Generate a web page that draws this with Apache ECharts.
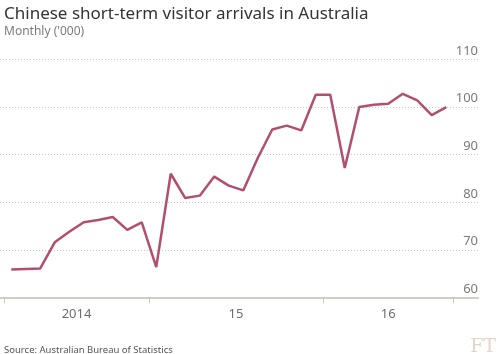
<!DOCTYPE html>
<html>
<head>
<meta charset="utf-8">
<script src="https://cdn.jsdelivr.net/npm/echarts@6/dist/echarts.min.js"></script>
<style>
  html, body { margin: 0; padding: 0; background: #ffffff; }
  #chart { width: 500px; height: 354px; }
</style>
</head>
<body>
<div id="chart"></div>
<script>
// monthly arrivals ('000), Mar 2014 .. Sep 2016
var months = ['2014-03','2014-04','2014-05','2014-06','2014-07','2014-08','2014-09','2014-10','2014-11','2014-12',
              '2015-01','2015-02','2015-03','2015-04','2015-05','2015-06','2015-07','2015-08','2015-09','2015-10','2015-11','2015-12',
              '2016-01','2016-02','2016-03','2016-04','2016-05','2016-06','2016-07','2016-08','2016-09'];
var arrivals = [65.9, 66.0, 66.1, 71.6, 73.8, 75.8, 76.3, 76.9, 74.2, 75.8,
                66.4, 86.0, 80.9, 81.4, 85.4, 83.5, 82.5, 89.3, 95.3, 96.1, 95.1, 102.6,
                102.6, 87.2, 100.0, 100.5, 100.7, 102.8, 101.4, 98.3, 100.0];
// year boundaries (month index) and label positions
var yearTicks = [-0.5, 9.5, 21.5, 30.5];
var yearLabelPos = [4.5, 15.5, 26];
var yearLabels = ['2014', '15', '16'];

var chart = echarts.init(document.getElementById('chart'));
var fontFam = '"Noto Sans", sans-serif';

var option = {
    backgroundColor: '#ffffff',
    animation: false,
    title: [
        {
            text: 'Chinese short-term visitor arrivals in Australia',
            left: -1, top: 1,
            textStyle: { fontFamily: fontFam, fontSize: 17, fontWeight: 'normal', color: '#333333' }
        },
        {
            text: "Monthly ('000)",
            left: -1, top: 21,
            textStyle: { fontFamily: fontFam, fontSize: 12, fontWeight: 'normal', color: '#7a7a7a' }
        },
        {
            text: 'Source: Australian Bureau of Statistics',
            left: -1, top: 340,
            textStyle: { fontFamily: fontFam, fontSize: 9.5, fontWeight: 'normal', color: '#555555' }
        },
        {
            text: 'FT',
            right: -1, top: 333,
            textStyle: { fontFamily: '"DejaVu Serif", serif', fontSize: 19, fontWeight: 'normal', color: '#e2d5c8' }
        }
    ],
    grid: { left: 0, right: 22, top: 59.5, bottom: 56.5 },
    xAxis: {
        type: 'value',
        min: -0.776,
        max: 32.19,
        axisLine: { show: true, lineStyle: { color: '#cfcfc6', width: 2 } },
        axisTick: {
            show: true, length: 6, customValues: yearTicks,
            lineStyle: { color: '#cfc6bc', width: 1 }
        },
        axisLabel: {
            customValues: yearLabelPos,
            formatter: function (v) {
                var k = yearLabelPos.indexOf(v);
                return k >= 0 ? yearLabels[k] : '';
            },
            margin: 10,
            fontFamily: fontFam, fontSize: 13, color: '#6e6e6e'
        },
        splitLine: { show: false }
    },
    yAxis: {
        type: 'value',
        position: 'right',
        min: 60, max: 110, interval: 10,
        axisLine: { show: false },
        axisTick: { show: false },
        axisLabel: {
            inside: true,
            margin: 0,
            verticalAlign: 'bottom',
            padding: [0, 0, 2, 0],
            fontFamily: fontFam, fontSize: 13, color: '#7a7a7a'
        },
        splitLine: { show: true, lineStyle: { type: [1, 2], color: '#cdc8b8', width: 1 } }
    },
    series: [
        {
            type: 'line',
            data: arrivals.map(function (v, i) { return [i, v]; }),
            showSymbol: false,
            lineStyle: { color: '#b24f6f', width: 2.5 },
            itemStyle: { color: '#b24f6f' }
        }
    ]
};
chart.setOption(option);
</script>
</body>
</html>
